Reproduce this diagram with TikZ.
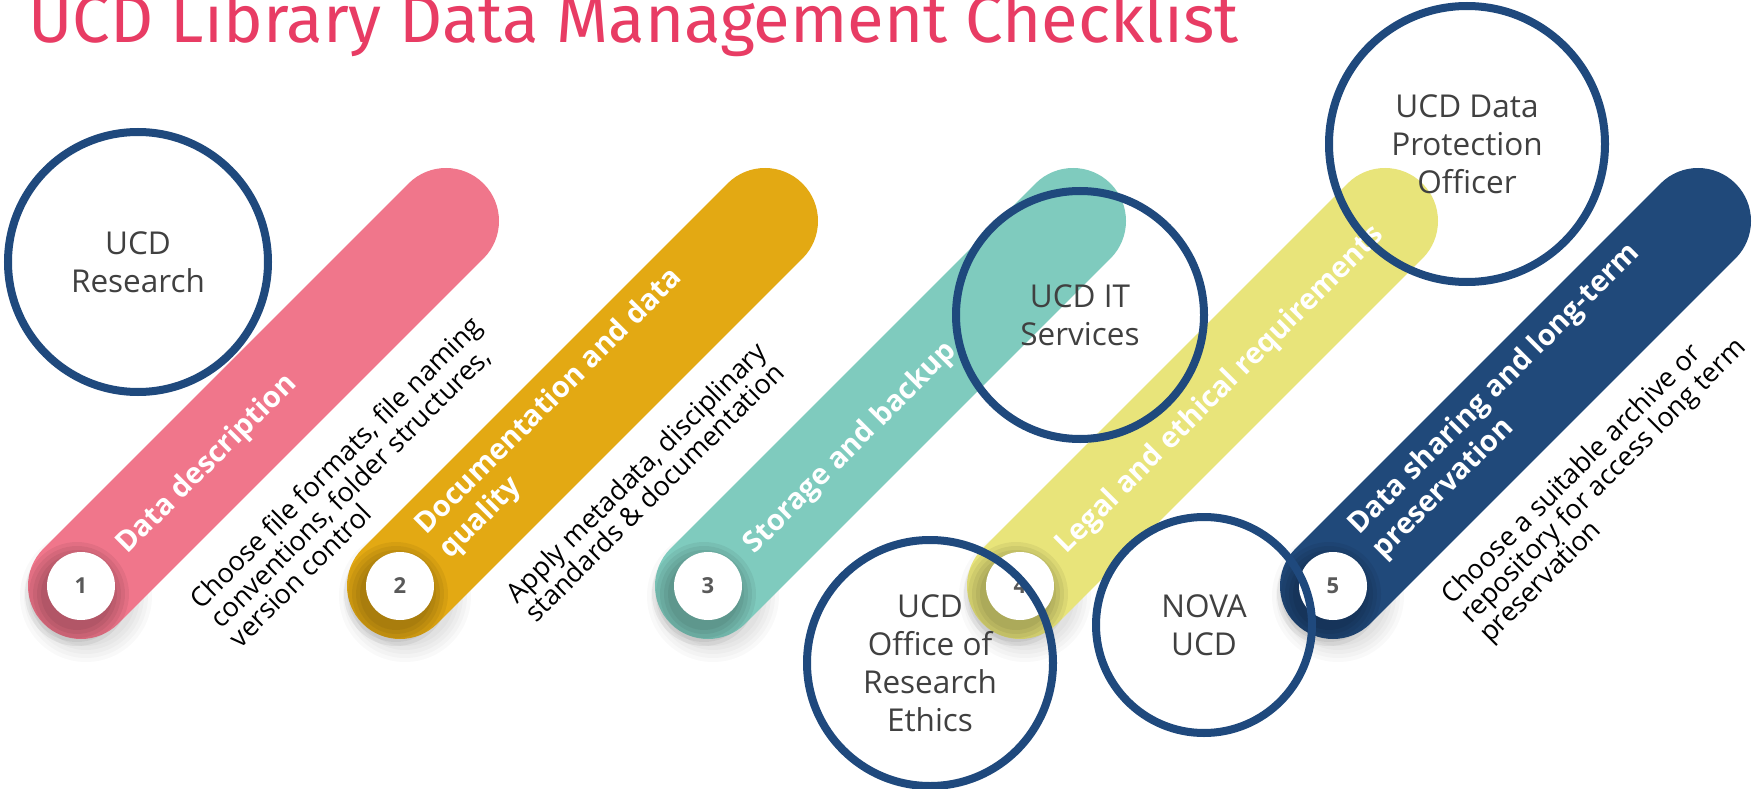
\documentclass[tikz,border=0pt]{standalone}
\usepackage{fontspec}
\setmainfont{Open Sans}
\newfontfamily\titlefont{Fira Sans}
\usetikzlibrary{calc}
\definecolor{cpink}{RGB}{240,118,139}
\definecolor{cgold}{RGB}{227,169,19}
\definecolor{cteal}{RGB}{127,203,190}
\definecolor{cyellow}{RGB}{232,228,122}
\definecolor{cnavy}{RGB}{32,73,122}
\definecolor{cring}{RGB}{31,73,125}
\definecolor{ctitle}{RGB}{232,60,100}
\definecolor{cgraytext}{RGB}{64,64,64}
\definecolor{cnum}{RGB}{89,89,89}
\tikzset{
  barline/.style={line width=106pt, line cap=round},
  numcirc/.style={circle, fill=white, minimum size=68pt, inner sep=0pt, text=cnum, font=\bfseries\fontsize{22}{24}\selectfont},
  bartitle/.style={inner sep=0pt, text=white, font=\bfseries\fontsize{29}{34}\selectfont},
  desc/.style={inner sep=0pt, text=black, align=left, font=\fontsize{27}{27}\selectfont},
  ring/.style={circle, draw=cring, line width=8pt, align=center, inner sep=0pt, text=cgraytext, font=\fontsize{31.5}{38}\selectfont},
  titlestyle/.style={inner sep=0pt, text=ctitle, font=\titlefont\fontsize{67}{70}\selectfont}
}
\newcommand\mkbar[5]{%
  \coordinate (#1s) at (#2,#3);
  \coordinate (#1e) at ($(#1s)+(365,-365)$);
  \foreach \r in {50,54,...,66}{\fill[black,opacity=0.025] ($(#1s)+(5,10)$) circle (\r pt);}
  \draw[barline,draw=#4] (#1s) -- (#1e);
  \foreach \r in {36,40,...,52}{\fill[black,opacity=0.055] ($(#1s)+(-4,8)$) circle (\r pt);}
  \node[numcirc] (#1n) at (#1s) {#5};
}
\begin{document}
\begin{tikzpicture}[x=1pt,y=-1pt]
\useasboundingbox (0,0) rectangle (1754,789);
\fill[white] (0,0) rectangle (1754,789);
\node[titlestyle, anchor=base west] (title) at (28,43) {UCD Library Data Management Checklist};
\mkbar{a}{81}{586}{cpink}{1}
\mkbar{b}{400}{586}{cgold}{2}
\mkbar{c}{708}{586}{cteal}{3}
\mkbar{d}{1020}{586}{cyellow}{4}
\mkbar{e}{1333}{586}{cnavy}{5}
\begin{scope}[shift={(as)}, rotate=45, transform shape]
  \node[bartitle, anchor=base west] (ta) at (55,11) {Data description};
  \node[desc, anchor=north west] (da) at (68,81) {\rule{0pt}{21pt}Choose file formats, file naming\\conventions, folder structures,\\version control};
\end{scope}
\begin{scope}[shift={(bs)}, rotate=45, transform shape]
  \node[bartitle, anchor=north west, align=left] (tb) at (54,-40) {\rule{0pt}{23pt}Documentation and data\\quality};
  \node[desc, anchor=north west] (db) at (70,75) {\rule{0pt}{21pt}Apply metadata, disciplinary\\standards \& documentation};
\end{scope}
\begin{scope}[shift={(cs)}, rotate=45, transform shape]
  \node[bartitle, anchor=base west] (tc) at (55,11) {Storage and backup};
\end{scope}
\begin{scope}[shift={(ds)}, rotate=45, transform shape]
  \node[bartitle, anchor=base west] (td) at (55,11) {Legal and ethical requirements};
\end{scope}
\begin{scope}[shift={(es)}, rotate=45, transform shape]
  \node[bartitle, anchor=north west, align=left] (te) at (54,-40) {\rule{0pt}{23pt}Data sharing and long-term\\preservation};
  \node[desc, anchor=north west] (de) at (70,77) {\rule{0pt}{21pt}Choose a suitable archive or\\repository for access long term\\preservation};
\end{scope}
\node[ring, minimum size=260pt] (research) at (138,262) {UCD\\Research};
\node[ring, minimum size=276pt] (dpo) at (1467,144) {UCD Data\\Protection\\Officer};
\node[ring, minimum size=248pt] (it) at (1080,315) {UCD IT\\Services};
\node[ring, minimum size=246pt] (ethics) at (930,663) {UCD\\Office of\\Research\\Ethics};
\node[ring, minimum size=216pt] (nova) at (1204,625) {NOVA\\UCD};
\end{tikzpicture}
\end{document}
